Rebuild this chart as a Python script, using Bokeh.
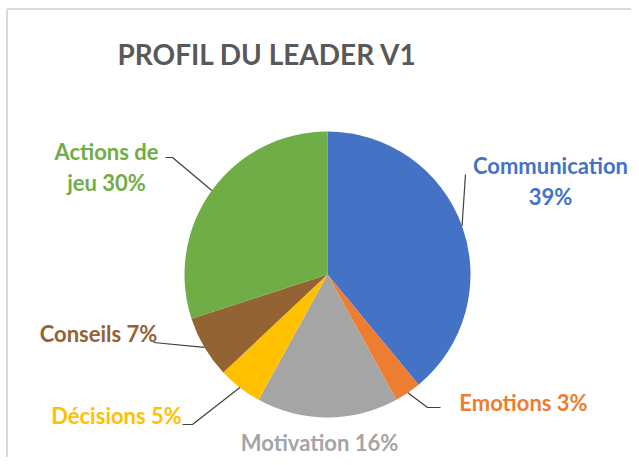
import math
from bokeh.plotting import figure
from bokeh.models import Range1d, ColumnDataSource
from bokeh.core.properties import value
from bokeh.embed import file_html
from bokeh.resources import INLINE

# ---- data ----
categories = ["Communication", "Emotions", "Motivation", "Décisions", "Conseils", "Actions de jeu"]
percents = [39, 3, 16, 5, 7, 30]
colors = ["#4472C4", "#ED7D31", "#A5A5A5", "#FFC000", "#946333", "#70AD47"]
label_texts = ["Communication\n39%", "Emotions 3%", "Motivation 16%", "Décisions 5%", "Conseils 7%", "Actions de\njeu 30%"]
title_text = "PROFIL DU LEADER V1"

# ---- layout (image pixel coords, y converted below) ----
W, H = 631, 457
def Y(py):
    return H - py

cx, cy, R = 327, Y(274), 143
label_pos = [(550, 180.5), (523, 402), (319, 442), (116, 415), (98, 333), (106, 166)]
LINE_GAP = 31
# leader line points from label side (before arc point); None = no leader
leader_pts = [[(465, 174)], [(440, 407), (427, 407)], None, [(182, 424), (192, 424)], [(153, 342)], [(165, 157), (172, 157)]]

FONT = "Lato"

p = figure(width=W, height=H, x_range=Range1d(0, W), y_range=Range1d(0, H),
           output_backend="svg", toolbar_location=None, min_border=0)
p.axis.visible = False
p.grid.visible = False
p.outline_line_color = None
p.background_fill_color = "white"
p.border_fill_color = "white"

# frame border (left and top)
p.line(x=[6.5, 6.5], y=[Y(8.5), 0], line_color="#D9D9D9", line_width=2)
p.line(x=[6.5, W], y=[Y(8.5), Y(8.5)], line_color="#D9D9D9", line_width=2)

total = sum(percents)
starts, ends, mids = [], [], []
cum = 0.0
for v in percents:
    a0 = math.pi / 2 - 2 * math.pi * (cum + v) / total
    a1 = math.pi / 2 - 2 * math.pi * cum / total
    starts.append(a0)
    ends.append(a1)
    mids.append((a0 + a1) / 2)
    cum += v

src = ColumnDataSource(dict(start=starts, end=ends, color=colors, cat=categories))
p.wedge(x=cx, y=cy, radius=R, start_angle="start", end_angle="end",
        fill_color="color", line_color=None, source=src)

# leader lines
for i, pts in enumerate(leader_pts):
    if pts is None:
        continue
    ex = cx + R * math.cos(mids[i])
    ey = cy + R * math.sin(mids[i])
    xs = [q[0] for q in pts] + [ex]
    ys = [Y(q[1]) for q in pts] + [ey]
    p.line(x=xs, y=ys, line_color="#404040", line_width=1.2)

# labels (each line drawn separately for exact spacing)
lx, ly, lt, lc = [], [], [], []
for (px, py), txt, col in zip(label_pos, label_texts, colors):
    lines = txt.split("\n")
    n = len(lines)
    for k, line in enumerate(lines):
        lx.append(px)
        ly.append(Y(py - (n - 1) * LINE_GAP / 2 + k * LINE_GAP))
        lt.append(line)
        lc.append(col)
p.text(x=lx, y=ly, text=lt, text_color=lc, text_font=value(FONT), text_font_style="bold",
       text_font_size="22px", text_align="center", text_baseline="middle")

# title
p.text(x=[267], y=[Y(53)], text=[title_text], text_color="#595959",
       text_font=value(FONT), text_font_style="bold", text_font_size="28px",
       text_align="center", text_baseline="middle")

open("out.html", "w").write(file_html(p, INLINE))
